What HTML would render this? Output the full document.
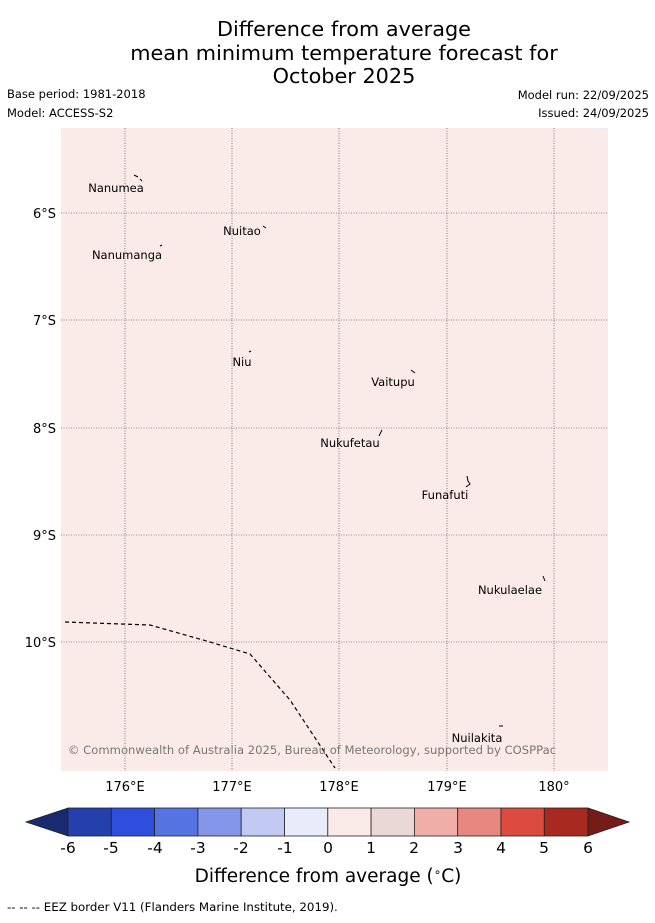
<!DOCTYPE html>
<html><head><meta charset="utf-8"><style>
body{margin:0;background:#fff;font-family:"DejaVu Sans","Liberation Sans",sans-serif;}
</style></head><body>
<svg width="655" height="919" xmlns="http://www.w3.org/2000/svg" font-family="DejaVu Sans, Liberation Sans, sans-serif">
<text x="344" y="36" font-size="20.8" text-anchor="middle">Difference from average</text>
<text x="344" y="60" font-size="20.8" text-anchor="middle">mean minimum temperature forecast for</text>
<text x="344" y="83" font-size="20.8" text-anchor="middle">October 2025</text>
<text x="7" y="98" font-size="11.5">Base period: 1981-2018</text>
<text x="7" y="117" font-size="11.5">Model: ACCESS-S2</text>
<text x="649" y="99" font-size="11.5" text-anchor="end">Model run: 22/09/2025</text>
<text x="649" y="117" font-size="11.5" text-anchor="end">Issued: 24/09/2025</text>
<rect x="61" y="128" width="547" height="643" fill="#fbebe8"/>
<path d="M592 128 L600 129 L608 131 L608 128Z" fill="#e8ecf8"/>
<g stroke="#333" stroke-width="0.6" stroke-dasharray="1,1.5">
<line x1="125" y1="128" x2="125" y2="771"/><line x1="232" y1="128" x2="232" y2="771"/>
<line x1="339" y1="128" x2="339" y2="771"/><line x1="447" y1="128" x2="447" y2="771"/>
<line x1="554" y1="128" x2="554" y2="771"/>
<line x1="61" y1="213" x2="608" y2="213"/><line x1="61" y1="320" x2="608" y2="320"/>
<line x1="61" y1="428" x2="608" y2="428"/><line x1="61" y1="535" x2="608" y2="535"/>
<line x1="61" y1="642" x2="608" y2="642"/>
</g>
<path d="M65 622 L150 625 L210 642 L250 654 L290 700 L335 768" fill="none" stroke="#000" stroke-width="1.2" stroke-dasharray="4,3"/>
<g font-size="13" text-anchor="end">
<text x="56" y="218">6°S</text><text x="56" y="325">7°S</text><text x="56" y="433">8°S</text>
<text x="56" y="540">9°S</text><text x="56" y="647">10°S</text></g>
<g font-size="13" text-anchor="middle">
<text x="125" y="791">176°E</text><text x="232" y="791">177°E</text><text x="339" y="791">178°E</text>
<text x="447" y="791">179°E</text><text x="554" y="791">180°</text></g>
<g font-size="11.5" text-anchor="middle">
<text x="116" y="192">Nanumea</text><text x="242" y="235">Nuitao</text><text x="127" y="259">Nanumanga</text>
<text x="242" y="366">Niu</text><text x="393" y="386">Vaitupu</text><text x="350" y="447">Nukufetau</text>
<text x="445" y="499">Funafuti</text><text x="510" y="594">Nukulaelae</text><text x="477" y="742">Nuilakita</text></g>
<g stroke="#000" stroke-width="1" fill="none">
<path d="M134 175 L138 177 M140 179 L142 181"/><path d="M263 226 L266 228"/><path d="M160 246 L162 245"/>
<path d="M249 352 L251 351"/><path d="M411 370 L415 373"/><path d="M379 436 L382 430"/>
<path d="M467 476 L468 481 L470 484 L466 487"/><path d="M543 576 L545 581"/><path d="M499 726 L503 726"/></g>
<text x="312" y="754" font-size="11.6" fill="#777" text-anchor="middle">© Commonwealth of Australia 2025, Bureau of Meteorology, supported by COSPPac</text>
<g stroke="#222" stroke-width="0.8">
<polygon points="26,822 68,808 68,836" fill="#1a2a70"/>
<rect x="68" y="808" width="43.3" height="28" fill="#2340ad"/>
<rect x="111.3" y="808" width="43.3" height="28" fill="#2e4fde"/>
<rect x="154.6" y="808" width="43.3" height="28" fill="#5673e3"/>
<rect x="197.9" y="808" width="43.3" height="28" fill="#8496ea"/>
<rect x="241.2" y="808" width="43.3" height="28" fill="#c2caf3"/>
<rect x="284.5" y="808" width="43.3" height="28" fill="#e8ebfa"/>
<rect x="327.8" y="808" width="43.3" height="28" fill="#fbebe8"/>
<rect x="371.1" y="808" width="43.3" height="28" fill="#ead8d6"/>
<rect x="414.4" y="808" width="43.3" height="28" fill="#efaea8"/>
<rect x="457.7" y="808" width="43.3" height="28" fill="#e8877f"/>
<rect x="501" y="808" width="43.3" height="28" fill="#dc4b40"/>
<rect x="544.3" y="808" width="43.7" height="28" fill="#a82920"/>
<polygon points="588,808 629,822 588,836" fill="#761c18"/>
</g>
<g font-size="15.5" text-anchor="middle">
<text x="68" y="853">-6</text><text x="111" y="853">-5</text><text x="155" y="853">-4</text><text x="198" y="853">-3</text>
<text x="241" y="853">-2</text><text x="285" y="853">-1</text><text x="328" y="853">0</text><text x="371" y="853">1</text>
<text x="414" y="853">2</text><text x="458" y="853">3</text><text x="501" y="853">4</text><text x="544" y="853">5</text><text x="588" y="853">6</text></g>
<text x="328" y="882" font-size="18.5" text-anchor="middle">Difference from average (<tspan font-size="12" dy="-6">∘</tspan><tspan dy="6">C)</tspan></text>
<text x="7" y="911" font-size="11.8">-- -- -- EEZ border V11 (Flanders Marine Institute, 2019).</text>
</svg>
</body></html>
